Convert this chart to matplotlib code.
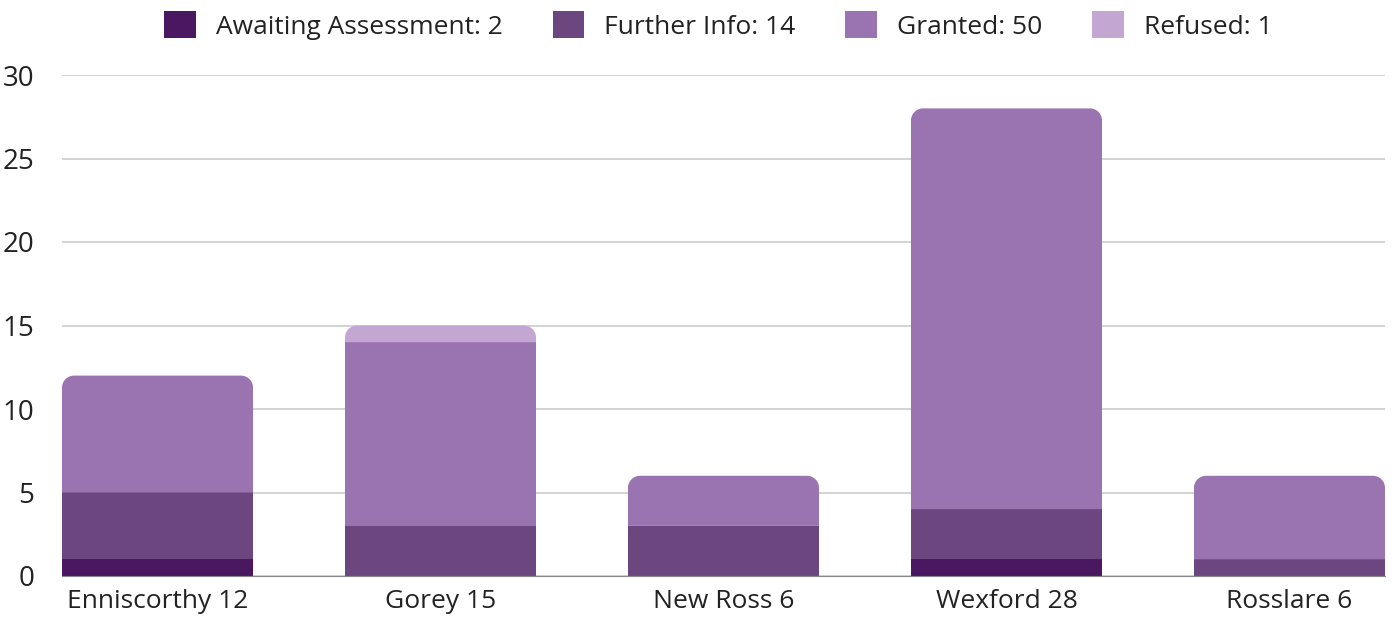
import numpy as np
import matplotlib.pyplot as plt
from matplotlib.patches import Patch, PathPatch
from matplotlib.path import Path

plt.rcParams['font.family'] = ['Open Sans', 'DejaVu Sans']

# Data
towns = ['Enniscorthy', 'Gorey', 'New Ross', 'Wexford', 'Rosslare']
status = ['Awaiting Assessment', 'Further Info', 'Granted', 'Refused']
awaiting = [1, 0, 0, 1, 0]
further = [4, 3, 3, 3, 1]
granted = [7, 11, 3, 24, 5]
refused = [0, 1, 0, 0, 0]
colors = ['#4a1761', '#6c477f', '#9a74b0', '#c3a6d1']

series = [awaiting, further, granted, refused]
totals = np.sum(series, axis=0)

fig = plt.figure(figsize=(13.92, 6.17), dpi=100)
ax = fig.add_axes([62/1392, 1-576/617, 1323/1392, (576-75)/617])

w = 0.675
x = np.arange(len(towns))
ax.set_xlim(-w/2, len(towns)-1+w/2)
ax.set_ylim(0, 30)

# corner radius in data units (about 12 px)
bb = ax.get_window_extent()
rx = 12 * (ax.get_xlim()[1]-ax.get_xlim()[0]) / bb.width
ry = 12 * 30 / bb.height


def top_rounded(x0, y0, width, height, color):
    x1, y1 = x0 + width, y0 + height
    k = 0.55
    verts = [(x0, y0), (x1, y0), (x1, y1-ry),
             (x1, y1-ry+k*ry), (x1-rx+k*rx, y1), (x1-rx, y1),
             (x0+rx, y1),
             (x0+rx-k*rx, y1), (x0, y1-ry+k*ry), (x0, y1-ry),
             (x0, y0)]
    codes = [Path.MOVETO, Path.LINETO, Path.LINETO,
             Path.CURVE4, Path.CURVE4, Path.CURVE4,
             Path.LINETO,
             Path.CURVE4, Path.CURVE4, Path.CURVE4,
             Path.CLOSEPOLY]
    ax.add_patch(PathPatch(Path(verts, codes), facecolor=color,
                           edgecolor='none', zorder=3))


for i in range(len(towns)):
    bottom = 0
    nonzero = [j for j in range(len(series)) if series[j][i] > 0]
    for j in nonzero:
        v = series[j][i]
        if j == nonzero[-1]:
            top_rounded(x[i]-w/2, bottom, w, v, colors[j])
        else:
            ax.bar(x[i], v, w, bottom=bottom, color=colors[j], zorder=3)
        bottom += v

ax.set_yticks(range(0, 31, 5))
ax.grid(axis='y', color='#cccccc', linewidth=1.2, zorder=0)
for s in ['top', 'right', 'left']:
    ax.spines[s].set_visible(False)
ax.spines['bottom'].set_color('#888888')
ax.spines['bottom'].set_zorder(4)
ax.tick_params(axis='both', length=0, colors='#222222')
ax.tick_params(axis='y', pad=20, labelsize=20)
ax.tick_params(axis='x', pad=9, labelsize=19)
ax.set_xticks(x)
ax.set_xticklabels([f'{t} {n}' for t, n in zip(towns, totals)])

handles = [Patch(facecolor=c, edgecolor='none') for c in colors]
labels = [f'{s}: {sum(v)}' for s, v in zip(status, series)]
fig.legend(handles, labels, loc='upper center', bbox_to_anchor=(0.516, 1.02),
           ncol=4, frameon=False, fontsize=19, handlelength=1.2,
           handleheight=1.2, handletextpad=0.75, columnspacing=1.9,
           labelcolor='#222222')

plt.savefig('out.png', dpi=100)
